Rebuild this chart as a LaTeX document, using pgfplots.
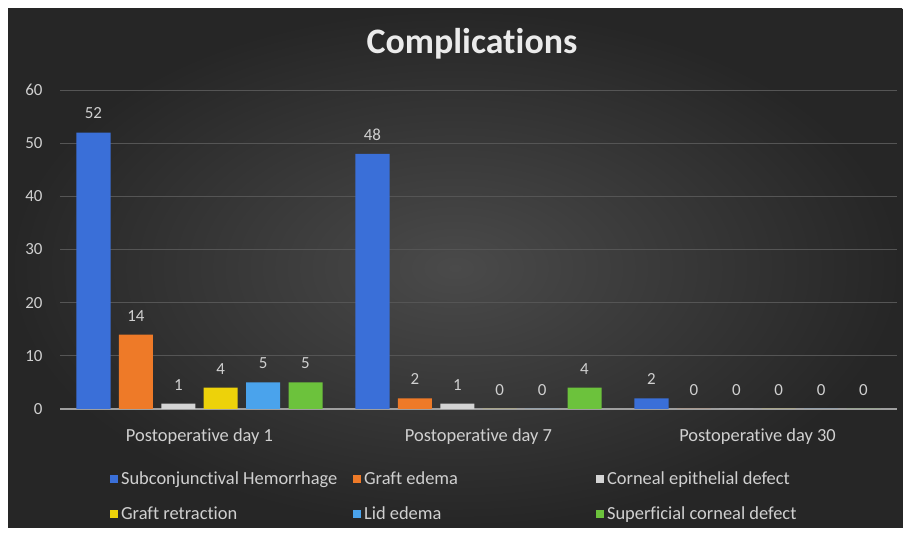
\documentclass[border=0pt]{standalone}
\usepackage{fontspec}
\setmainfont{Carlito}[Ligatures={NoCommon,NoContextual}]
\usepackage{pgfplots}
\pgfplotsset{compat=1.18}
\definecolor{cBlue}{HTML}{3A6FD8}
\definecolor{cOrange}{HTML}{EE7A28}
\definecolor{cGray}{HTML}{D4D4D4}
\definecolor{cYellow}{HTML}{EDD20A}
\definecolor{cLBlue}{HTML}{4AA3EC}
\definecolor{cGreen}{HTML}{6CC23C}
\definecolor{bgIn}{HTML}{4A4A4A}
\definecolor{bgOut}{HTML}{262626}
\definecolor{gridC}{HTML}{555555}
\definecolor{txtC}{HTML}{D0D0D0}
\newcommand{\legbox}[1]{\makebox[224bp][l]{#1}}
\begin{document}
\begin{tikzpicture}[x=1bp,y=1bp]
\useasboundingbox (0,0) rectangle (908,533);
\fill[white] (0,0) rectangle (908,533);
\shade[shading=radial, inner color=bgIn, outer color=bgOut] (8,6) rectangle (902,524);
\draw[black!85, line width=0.8bp] (8,6) rectangle (902,524);
\node[text=white!92!black, font=\bfseries\fontsize{36}{40}\selectfont] at (472,489) {Complications};
\begin{axis}[
  at={(60bp,124bp)}, anchor=south west,
  scale only axis, width=837bp, height=319bp,
  xmin=-0.5, xmax=2.5, ymin=0, ymax=60,
  ytick={0,10,...,60}, xtick={0,1,2},
  xticklabels={Postoperative day 1, Postoperative day 7, Postoperative day 30},
  axis lines*=left,
  y axis line style={draw=none},
  x axis line style={draw=gray!75, line width=1.6bp},
  major tick length=0pt,
  ymajorgrids, grid style={color=gridC, line width=0.8bp},
  /pgf/number format/assume math mode=true,
  tick label style={text=txtC, font=\fontsize{17}{20}\selectfont},
  yticklabel style={xshift=-14bp},
  xticklabel style={yshift=-16bp, font=\fontsize{18.5}{22}\selectfont},
  ybar, bar width=0.122,
  nodes near coords,
  nodes near coords style={text=txtC, font=\fontsize{17}{20}\selectfont, yshift=10bp},
  every axis plot/.append style={draw=none},
  legend image code/.code={\fill[#1,draw=none] (0bp,-4bp) rectangle (8bp,4bp);},
  legend style={at={(axis description cs:0.056,-0.18)}, anchor=north west,
    draw=none, fill=none, legend columns=3, text=txtC,
    font=\fontsize{18.5}{22}\selectfont,
    nodes={inner sep=3bp},
    /tikz/every even column/.append style={column sep=5bp},
    row sep=15bp},
]
\addplot[fill=cBlue, bar shift=-0.380] coordinates {(0,52) (1,48) (2,2)};
\addplot[fill=cOrange, bar shift=-0.228] coordinates {(0,14) (1,2) (2,0)};
\addplot[fill=cGray, bar shift=-0.076] coordinates {(0,1) (1,1) (2,0)};
\addplot[fill=cYellow, bar shift=0.076] coordinates {(0,4) (1,0) (2,0)};
\addplot[fill=cLBlue, bar shift=0.228] coordinates {(0,5) (1,0) (2,0)};
\addplot[fill=cGreen, bar shift=0.380] coordinates {(0,5) (1,4) (2,0)};
\legend{\legbox{Subconjunctival Hemorrhage}, \legbox{Graft edema}, \legbox{Corneal epithelial defect}, \legbox{Graft retraction}, \legbox{Lid edema}, \legbox{Superficial corneal defect}}
\end{axis}
\end{tikzpicture}
\end{document}
